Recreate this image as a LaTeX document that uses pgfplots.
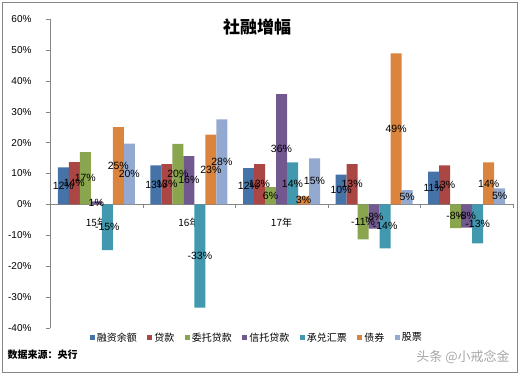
\documentclass[border=0pt]{standalone}
\usepackage{pgfplots}
\pgfplotsset{compat=1.18}
\usepackage{fontspec}
\setmainfont{Liberation Sans}
\newfontfamily\cjk{Noto Sans CJK SC}
\definecolor{c1}{HTML}{4572A7}
\definecolor{c2}{HTML}{AA4643}
\definecolor{c3}{HTML}{89A54E}
\definecolor{c4}{HTML}{71588F}
\definecolor{c5}{HTML}{4198AF}
\definecolor{c6}{HTML}{DB843D}
\definecolor{c7}{HTML}{93A9CF}
\definecolor{axgray}{HTML}{868686}
\begin{document}
\begin{tikzpicture}[x=1pt,y=1pt]
\useasboundingbox (-50,-48) rectangle (472,328);
\draw[axgray,line width=0.8pt] (-48,-44) rectangle (467,326);
\begin{axis}[
  at={(0,0)}, anchor=south west,
  scale only axis, width=463pt, height=309pt,
  xmin=-0.5, xmax=4.5, ymin=-40, ymax=60,
  ybar=0pt, bar width=11pt,
  axis x line=middle, axis y line=left,
  axis line style={-, draw=axgray},
  tick style={draw=axgray},
  ytick={-40,-30,...,60},
  yticklabel={\pgfmathprintnumber{\tick}\%},
  /pgf/number format/assume math mode=true,
  yticklabel style={font=\fontsize{10}{12}\selectfont, anchor=east, xshift=-11pt},
  tick align=outside,
  major tick length=4pt,
  xtick={0,1,2,3,4},
  xticklabels={15年,16年,17年,,},
  major x tick style={draw=none},
  minor xtick={-0.5,0.5,1.5,2.5,3.5,4.5},
  minor tick length=4pt,
  minor x tick style={draw=axgray},
  xticklabel style={font=\cjk\fontsize{10}{12}\selectfont, anchor=north, yshift=-6pt},
  nodes near coords={\pgfmathprintnumber[fixed,precision=0]{\pgfplotspointmeta}\%},
  visualization depends on=rawy \as \rawy,
  every node near coord/.append style={shift={(axis direction cs:0,-\rawy/2)}, anchor=center, font=\fontsize{10.5}{12}\selectfont, text=black},
  legend columns=7,
  legend style={draw=none, fill=none, at={(0.447,-0.031)}, anchor=center,
    font=\cjk\fontsize{10}{12}\selectfont,
    /tikz/every even column/.append style={column sep=8.5pt}},
  legend image code/.code={\fill[#1,draw=none] (0pt,-2.5pt) rectangle (5pt,2.5pt);},
]
\addplot[fill=c1,draw=none] coordinates {(0,12) (1,12.6) (2,11.7) (3,9.6) (4,10.6)};
\addplot[fill=c2,draw=none] coordinates {(0,13.7) (1,13) (2,13) (3,13) (4,12.6)};
\addplot[fill=c3,draw=none] coordinates {(0,16.9) (1,19.6) (2,5.6) (3,-11.3) (4,-7.7)};
\addplot[fill=c4,draw=none] coordinates {(0,1) (1,15.6) (2,35.7) (3,-7.8) (4,-7.5)};
\addplot[fill=c5,draw=none] coordinates {(0,-14.8) (1,-33.4) (2,13.6) (3,-14.2) (4,-12.6)};
\addplot[fill=c6,draw=none] coordinates {(0,25) (1,22.6) (2,2.6) (3,48.9) (4,13.6)};
\addplot[fill=c7,draw=none] coordinates {(0,19.7) (1,27.5) (2,14.9) (3,4.6) (4,5.2)};
\legend{融资余额,贷款,委托贷款,信托贷款,承兑汇票,债券,股票}
\end{axis}
\node[font=\cjk\bfseries\fontsize{17}{19}\selectfont] at (207,301) {社融增幅};
\node[anchor=west,font=\cjk\bfseries\fontsize{10}{12}\selectfont] at (-46,-27) {数据来源：央行};
\node[font=\cjk\fontsize{13}{15}\selectfont, text=gray!70] at (413,-29) {头条 @小戒念金};
\end{tikzpicture}
\end{document}
